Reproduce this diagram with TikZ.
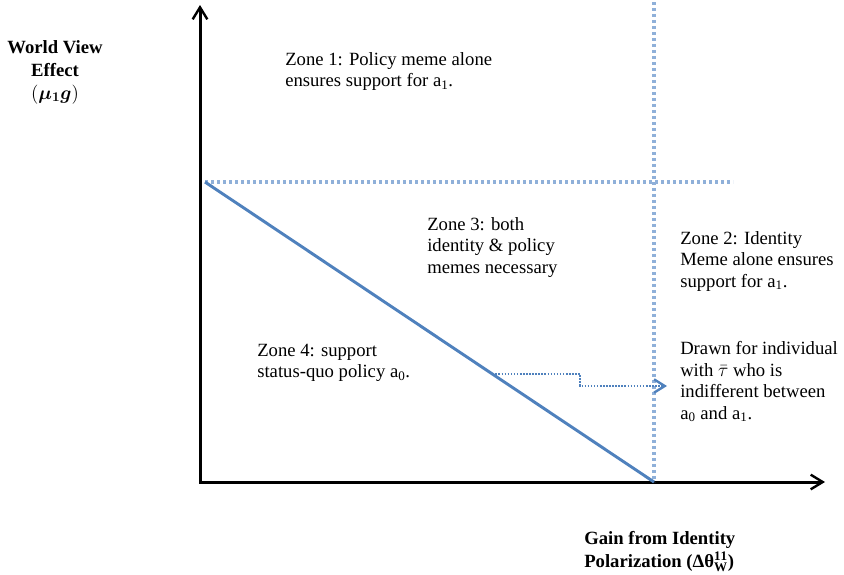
\documentclass[tikz,border=0pt]{standalone}
\usepackage{amsmath}
\usepackage{fontspec}
\setmainfont{Liberation Serif}
\usetikzlibrary{arrows.meta,calc}
\definecolor{lineblue}{HTML}{4F81BD}
\definecolor{guideblue}{HTML}{8FB0D9}

\begin{document}
\begin{tikzpicture}[x=0.75pt,y=-0.75pt,
  axis/.style={line width=2.25pt, line join=miter,
    {Straight Barb[length=9pt,width=11pt,line width=1.8pt]}-{Straight Barb[length=9pt,width=11pt,line width=1.8pt]}},
  guide/.style={guideblue, line width=2.3pt, dash pattern=on 2.3pt off 2.2pt},
  frontier/.style={lineblue, line width=2.2pt},
  pointer/.style={lineblue, line width=1.3pt, dash pattern=on 1.2pt off 1.1pt,
    -{Straight Barb[length=8pt,width=10pt,line width=1.8pt]}},
  zone/.style={anchor=base west, align=left, inner sep=0pt,
    font=\fontsize{14}{16.1}\selectfont},
  axlabel/.style={inner sep=0pt, font=\bfseries\fontsize{14}{16.9}\selectfont}]

\useasboundingbox (0,0) rectangle (844,575);

% axes
\coordinate (ytop) at (200,5);
\coordinate (O) at (200,482);
\coordinate (xend) at (825,482);
\draw[axis] (ytop) -- (O) -- (xend);

% guide lines
\coordinate (hA) at (205,182);
\coordinate (hB) at (733,182);
\coordinate (vA) at (654,2);
\coordinate (vB) at (654,482);
\draw[guide] (hA) -- (hB);
\draw[guide] (vA) -- (vB);

% indifference frontier
\coordinate (fA) at (205,182);
\coordinate (fB) at (654,482);
\draw[frontier] (fA) -- (fB);

% pointer from the frontier to the note
\coordinate (pS) at ($(fA)!0.64!(fB)$);
\coordinate (pK) at (580,386);
\coordinate (pE) at (667,386);
\draw[pointer] (pS) -- (pS -| pK) -- (pK) -- (pE);

% axis labels (the base anchor sits on the last line)
\node[axlabel, anchor=base, align=center] (ylab) at (55,99)
  {World View\\Effect\\$(\boldsymbol{\mu_1 g})$};
\node[axlabel, anchor=base west, align=left] (xlab) at (584,567)
  {Gain from Identity\\Polarization (Δθ$^{\mathbf{11}}_{\mathbf{W}}$)};

% zone labels
\node[zone] (z1) at (285,86.5) {Zone 1: Policy meme alone\\ensures support for a\textsubscript{1}.};
\node[zone] (z3) at (427,273) {Zone 3: both\\identity \& policy\\memes necessary};
\node[zone] (z2) at (680,287) {Zone 2: Identity\\Meme alone ensures\\support for a\textsubscript{1}.};
\node[zone] (z4) at (257,377.5) {Zone 4: support\\status-quo policy a\textsubscript{0}.};
\node[zone] (note) at (680,419) {Drawn for individual\\with $\bar{\tau}$ who is\\indifferent between\\a\textsubscript{0} and a\textsubscript{1}.};
\end{tikzpicture}
\end{document}
